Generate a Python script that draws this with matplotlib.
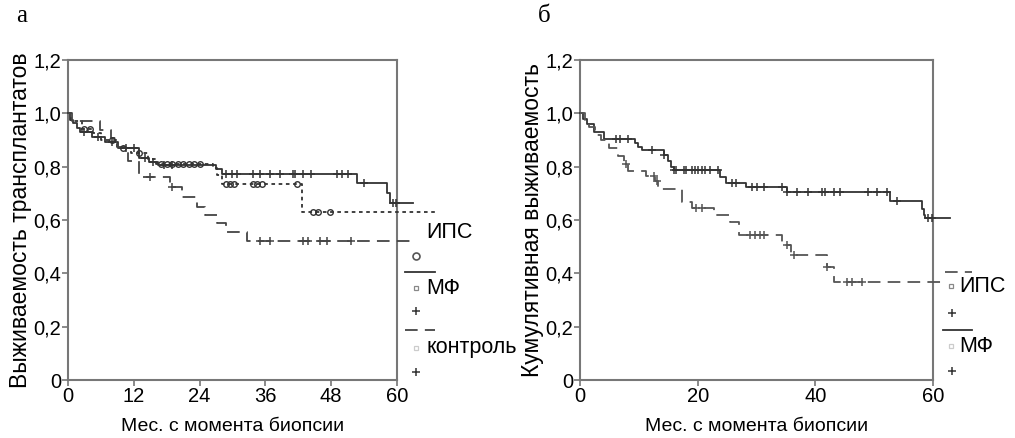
import numpy as np
import matplotlib
matplotlib.use("Agg")
import matplotlib.pyplot as plt
from matplotlib.lines import Line2D

plt.rcParams['font.family'] = ['Liberation Sans', 'DejaVu Sans']

# ---- панель а: выживаемость трансплантатов ----
ips_a_t = [0, 0.5, 2.5, 4.5, 6.0, 9.0, 11.5, 14.6, 16.0, 26.5, 27.2, 28.0, 42.6]
ips_a_s = [1.0, 0.97, 0.94, 0.925, 0.90, 0.87, 0.85, 0.83, 0.81, 0.795, 0.77, 0.735, 0.63]
ips_a_end = 67
ips_a_cens = [3, 4, 8, 10, 13, 17, 18, 19, 20, 21, 22, 23, 24,
              28.9, 29.6, 30.2, 33.8, 34.5, 35.4, 41.7, 44.7, 45.6, 47.8]

mf_a_t = [0, 0.4, 1.0, 1.6, 2.2, 4.4, 6.8, 9.2, 12.9, 14.7, 16.5, 27.0, 28.0, 52.7, 58.2, 58.7]
mf_a_s = [1.0, 0.975, 0.962, 0.944, 0.931, 0.912, 0.894, 0.869, 0.831, 0.819, 0.806,
          0.79, 0.772, 0.739, 0.70, 0.664]
mf_a_end = 63
mf_a_cens = [3.0, 5.5, 8.0, 10.5, 12.0, 14.0, 15.5, 17.5, 19, 28.9, 29.9, 30.8, 33.8, 35,
             36.8, 38.7, 41.1, 41.4, 42.9, 44.4, 49, 49.9, 51.1, 54, 59.3, 59.9]

ctl_a_t = [0, 0.7, 5.8, 7.9, 9.0, 11.0, 13.0, 18.6, 20.7, 23.5, 25.0, 27.1, 28.9, 32.6]
ctl_a_s = [1.0, 0.97, 0.937, 0.907, 0.875, 0.82, 0.76, 0.725, 0.687, 0.65, 0.619, 0.587, 0.556, 0.52]
ctl_a_end = 63
ctl_a_cens = [15, 18.9, 35, 36.8, 42.9, 43.8, 46, 47.2, 51.7]

# ---- панель б: кумулятивная выживаемость ----
mf_b_t = [0, 0.5, 1.2, 2.3, 4.0, 9.3, 9.9, 10.5, 14.2, 15.0, 15.5, 15.9, 23.8, 24.9,
          28.3, 35.1, 52.7, 58.1, 58.4, 58.7]
mf_b_s = [1.0, 0.98, 0.96, 0.93, 0.905, 0.887, 0.875, 0.862, 0.844, 0.82, 0.80, 0.787,
          0.76, 0.74, 0.725, 0.706, 0.672, 0.64, 0.62, 0.606]
mf_b_end = 62.9
mf_b_cens = [6.2, 6.8, 8.2, 12.2, 14.2, 16.0, 16.4, 17.6, 18.1, 19.0, 19.5, 20.1, 20.7,
             21.2, 22.1, 23.5, 25.8, 26.6, 29.2, 30.0, 31.2, 34.3, 35.1, 36.8, 38.8,
             41.1, 41.6, 43.1, 44.2, 49.0, 50.4, 52.1, 53.8, 59.2, 59.8]

ips_b_t = [0, 0.8, 1.5, 2.5, 3.5, 5.0, 6.5, 7.5, 8.2, 11.2, 12.8, 13.3, 17.3, 19.0,
           22.7, 25.5, 27.0, 34.3, 35.9, 41.9, 43.1]
ips_b_s = [1.0, 0.97, 0.95, 0.92, 0.90, 0.87, 0.84, 0.81, 0.785, 0.765, 0.745, 0.715,
           0.666, 0.644, 0.619, 0.594, 0.544, 0.506, 0.469, 0.425, 0.369]
ips_b_end = 62
ips_b_cens = [7.9, 12.5, 13.1, 19.8, 20.7, 28.9, 29.7, 30.6, 31.2, 35.1, 36.3, 41.9,
              45.3, 46.2, 47.9]

yticks = [0, 0.2, 0.4, 0.6, 0.8, 1.0, 1.2]
ytick_labels = ['0', '0,2', '0,4', '0,6', '0,8', '1,0', '1,2']

W, H = 1015, 438
fig = plt.figure(figsize=(W / 100, H / 100), dpi=100)

spine_col = '#777777'
line_col = '#333333'


def km(ax, t, s, end, cens, ls, marker, col=line_col, ms=6):
    tt = list(t) + [end]
    ss = list(s) + [s[-1]]
    ax.step(tt, ss, where='post', color=col, lw=1.3, linestyle=ls, clip_on=False, zorder=3)
    idx = np.searchsorted(np.array(t), np.array(cens), side='right') - 1
    yv = np.array(s)[idx]
    if marker == 'o':
        ax.plot(cens, yv, 'o', ms=4, mfc='none', mec=col, mew=1.0, clip_on=False, zorder=4)
    else:
        ax.plot(cens, yv, '+', ms=ms, color=col, mew=1.1, clip_on=False, zorder=4)


def setup(ax, xticks, ylabel):
    ax.set_xlim(0, 60)
    ax.set_ylim(0, 1.2)
    ax.set_yticks(yticks)
    ax.set_yticklabels(ytick_labels, fontsize=14.5)
    ax.set_xticks(xticks)
    ax.set_xticklabels([str(v) for v in xticks], fontsize=14.5)
    for sp in ax.spines.values():
        sp.set_color(spine_col)
        sp.set_linewidth(1.5)
    ax.tick_params(axis='both', color=spine_col, length=4, width=1.2, pad=1)
    ax.set_ylabel(ylabel, fontsize=16.5, labelpad=1)
    ax.set_xlabel('Мес. с момента биопсии', fontsize=14, labelpad=9)


def fx(px):
    return px / W


def fy(py):
    return 1 - py / H


ax1 = fig.add_axes([fx(68), fy(380), fx(397) - fx(68), fy(60) - fy(380)])
km(ax1, ips_a_t, ips_a_s, ips_a_end, ips_a_cens, (0, (2, 2)), 'o')
km(ax1, mf_a_t, mf_a_s, mf_a_end, mf_a_cens, '-', '+')
km(ax1, ctl_a_t, ctl_a_s, ctl_a_end, ctl_a_cens, (0, (7, 4)), '+', col='#444444')
setup(ax1, [0, 12, 24, 36, 48, 60], 'Выживаемость трансплантатов')

ax2 = fig.add_axes([fx(580), fy(380), fx(933) - fx(580), fy(60) - fy(380)])
km(ax2, mf_b_t, mf_b_s, mf_b_end, mf_b_cens, '-', '+')
km(ax2, ips_b_t, ips_b_s, ips_b_end, ips_b_cens, (0, (7, 4)), '+', col='#555555')
setup(ax2, [0, 20, 40, 60], 'Кумулятивная выживаемость')

# панельные буквы
fig.text(fx(16), fy(16), 'а', fontsize=18, family='Liberation Serif', va='center')
fig.text(fx(538), fy(16), 'б', fontsize=18, family='Liberation Serif', va='center')


def leg_line(x0, x1, y, ls, col=line_col):
    fig.add_artist(Line2D([fx(x0), fx(x1)], [fy(y), fy(y)], color=col, lw=1.3, linestyle=ls))


def leg_mark(x, y, m, col):
    if m == 's':
        fig.add_artist(Line2D([fx(x)], [fy(y)], marker='s', ms=3.5, mfc='none', mec=col, mew=0.9))
    elif m == 'o':
        fig.add_artist(Line2D([fx(x)], [fy(y)], marker='o', ms=5, mfc='none', mec=col, mew=1.2))
    else:
        fig.add_artist(Line2D([fx(x)], [fy(y)], marker='+', ms=6, color=col, mew=1.1))


def leg_text(x, y, s):
    fig.text(fx(x), fy(y), s, fontsize=15.5, va='center', ha='left')


# легенда панели а
leg_text(426, 232, 'ИПС')
leg_mark(416, 256, 'o', '#555555')
leg_line(405, 435, 272, '-')
leg_mark(416, 288, 's', '#888888')
leg_text(426, 288, 'МФ')
leg_mark(416, 311, '+', '#333333')
leg_line(405, 435, 330, (0, (7, 4)), '#444444')
leg_mark(416, 348, 's', '#cccccc')
leg_text(426, 348, 'контроль')
leg_mark(416, 372, '+', '#333333')

# легенда панели б
leg_line(945, 972, 272, (0, (7, 4)), '#555555')
leg_mark(951, 286, 's', '#888888')
leg_text(959, 286, 'ИПС')
leg_mark(952, 313, '+', '#333333')
leg_line(943, 972, 330, '-')
leg_mark(951, 346, 's', '#cccccc')
leg_text(959, 346, 'МФ')
leg_mark(952, 371, '+', '#333333')

fig.savefig('out.png', dpi=100)
